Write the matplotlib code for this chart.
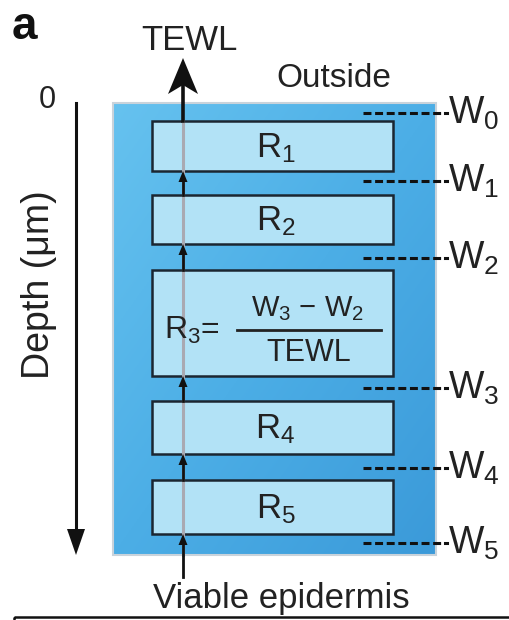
import matplotlib.pyplot as plt
import numpy as np
from matplotlib.patches import Rectangle, Polygon
from matplotlib.colors import LinearSegmentedColormap

plt.rcParams['font.family'] = ['Liberation Sans', 'DejaVu Sans']
plt.rcParams['mathtext.fontset'] = 'custom'
plt.rcParams['mathtext.rm'] = 'Liberation Sans'
plt.rcParams['mathtext.it'] = 'Liberation Sans'
plt.rcParams['mathtext.bf'] = 'Liberation Sans:bold'

# layers of the stratum corneum (top/bottom depth in picture units)
layer_labels = ['R$_1$', 'R$_2$', '', 'R$_4$', 'R$_5$']
layer_top = [121, 195, 270, 401, 480]
layer_bottom = [171, 244, 376, 454, 534]

# water content levels between layers
w_labels = ['W$_0$', 'W$_1$', 'W$_2$', 'W$_3$', 'W$_4$', 'W$_5$']
w_depth = [113, 181, 258, 388, 468, 543]

dark = '#1b2631'
tissue = (113, 436, 103, 555)   # x0, x1, y0, y1
box_x = (152, 393)
flow_x = 183

fig = plt.figure(figsize=(5.09, 6.20), dpi=100)
ax = fig.add_axes([0, 0, 1, 1])
ax.set_xlim(0, 509)
ax.set_ylim(620, 0)
ax.axis('off')


def head(x, tip, w, l, up=True, notch=0.0):
    s = 1 if up else -1
    pts = [(x, tip), (x + w / 2, tip + s * l), (x, tip + s * l * (1 - notch)),
           (x - w / 2, tip + s * l)]
    ax.add_patch(Polygon(pts, closed=True, color='#111111', lw=0, zorder=6))


# tissue block with gradient
grad = np.add.outer(np.linspace(0, 1, 200), np.linspace(0, 1, 200)) / 2
cmap = LinearSegmentedColormap.from_list('skin', ['#66c2ef', '#4caee6', '#3b9ad9'])
ax.imshow(grad, cmap=cmap, extent=(tissue[0], tissue[1], tissue[3], tissue[2]),
          zorder=1, aspect='auto')
ax.add_patch(Rectangle((tissue[0], tissue[2]), tissue[1] - tissue[0], tissue[3] - tissue[2],
                       fill=False, ec='#c9d3db', lw=1.5, zorder=2))

# layer boxes
for lab, t, b in zip(layer_labels, layer_top, layer_bottom):
    ax.add_patch(Rectangle((box_x[0], t), box_x[1] - box_x[0], b - t,
                           fc='#b2e2f6', ec=dark, lw=1.8, zorder=3))
    if lab:
        ax.text((box_x[0] + box_x[1]) / 2 + 3, (t + b) / 2 + 11, lab, fontsize=25,
                ha='center', va='baseline', color='#222222', zorder=5)

# R3 formula
ax.text(164, 339, 'R$_3$=', fontsize=23, ha='left', va='baseline', color='#222222', zorder=5)
ax.text(308, 316, 'W$_3$ \u2212 W$_2$', fontsize=21, ha='center', va='baseline',
        color='#222222', zorder=5)
ax.plot([237, 381], [330, 330], color='#222222', lw=2, zorder=5)
ax.text(309, 361, 'TEWL', fontsize=22, ha='center', va='baseline', color='#222222', zorder=5)

# water flux line and arrows
ax.plot([flow_x, flow_x], [layer_top[0], tissue[3]], color='#a9a9b2', lw=2.2, zorder=4)
for i in range(len(layer_top) - 1):
    ax.plot([flow_x, flow_x], [layer_top[i + 1], layer_bottom[i] + 8], color='#111111',
            lw=2, zorder=5)
    head(flow_x, layer_bottom[i], 9, 11)
ax.plot([flow_x, flow_x], [577, layer_bottom[-1] + 8], color='#111111', lw=2, zorder=5)
head(flow_x, layer_bottom[-1], 9, 11)
ax.plot([flow_x, flow_x], [layer_top[0], 85], color='#111111', lw=2.6, zorder=5)
head(flow_x, 58, 30, 36, notch=0.25)

# W levels
for lab, d in zip(w_labels, w_depth):
    ax.plot([363, 441], [d, d], color='#111111', lw=2.2, dashes=(2.6, 1.2), zorder=5)
    ax.plot([445, 447], [d, d], color='#111111', lw=2.2, zorder=5)
    ax.text(448, d + 11, lab, fontsize=27, ha='left', va='baseline', color='#222222')

# depth axis
ax.plot([76, 76], [103, 535], color='#111111', lw=2.2)
head(76, 555, 18, 26, up=False)
ax.text(47, 108, '0', fontsize=22, ha='center', va='baseline', color='#222222')
ax.text(39, 285, 'Depth (\u03bcm)', fontsize=27, rotation=90, ha='center', va='center',
        color='#222222')

ax.text(189, 50, 'TEWL', fontsize=25, ha='center', va='baseline', color='#222222')
ax.text(334, 87, 'Outside', fontsize=24, ha='center', va='baseline', color='#222222')
ax.text(281, 608, 'Viable epidermis', fontsize=25, ha='center', va='baseline', color='#222222')
ax.text(12, 39, 'a', fontsize=33, fontweight='bold', ha='left', va='baseline', color='#111111')

ax.add_patch(Rectangle((14, 617), 600, 40, fill=False, ec='#111111', lw=1.8, clip_on=True))

fig.savefig('out.png', dpi=100)
